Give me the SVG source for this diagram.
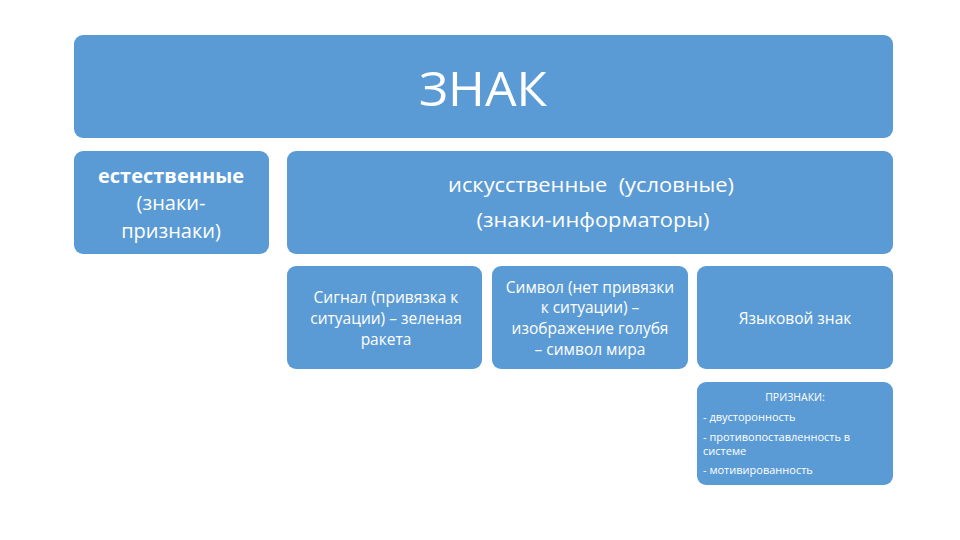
<svg xmlns="http://www.w3.org/2000/svg" width="960" height="540" viewBox="0 0 960 540">
<style>
.b{fill:#5b9bd5;}
text{fill:#fff;font-family:"Open Sans","Liberation Sans",sans-serif;text-anchor:middle;}
.m{font-size:15.5px;}
.s{font-size:11px;text-anchor:start;}
</style>
<rect width="960" height="540" fill="#fff"/>
<g id="znak"><rect class="b" x="74" y="35" width="819" height="103" rx="9"/><text x="483" y="106" font-size="48" textLength="128" lengthAdjust="spacingAndGlyphs">ЗНАК</text></g>
<g id="natural"><rect class="b" x="74" y="151" width="195" height="103" rx="9"/>
<text x="171" y="183" font-size="19" font-weight="bold" textLength="146" lengthAdjust="spacingAndGlyphs">естественные</text>
<text x="171" y="210" font-size="20">(знаки-</text>
<text x="171" y="238" font-size="20">признаки)</text></g>
<g id="artificial"><rect class="b" x="287" y="151" width="606" height="103" rx="9"/>
<text x="591" y="192" font-size="20" xml:space="preserve" textLength="286" lengthAdjust="spacingAndGlyphs">искусственные  (условные)</text>
<text x="593" y="227" font-size="20" textLength="233" lengthAdjust="spacingAndGlyphs">(знаки-информаторы)</text></g>
<g id="signal"><rect class="b" x="287" y="266" width="195" height="103" rx="9"/>
<text class="m" x="386" y="303">Сигнал (привязка к</text>
<text class="m" x="386" y="324">ситуации) – зеленая</text>
<text class="m" x="386" y="345">ракета</text></g>
<g id="symbol"><rect class="b" x="492" y="266" width="196" height="103" rx="9"/>
<text class="m" x="590" y="293">Символ (нет привязки</text>
<text class="m" x="590" y="313">к ситуации) –</text>
<text class="m" x="590" y="334">изображение голубя</text>
<text class="m" x="590" y="355">– символ мира</text></g>
<g id="lang"><rect class="b" x="697" y="266" width="196" height="103" rx="9"/>
<text class="m" x="795" y="324">Языковой знак</text></g>
<g id="features"><rect class="b" x="697" y="382" width="196" height="103" rx="9"/>
<text x="795" y="401" font-size="10.5">ПРИЗНАКИ:</text>
<text class="s" x="703" y="421">- двусторонность</text>
<text class="s" x="703" y="441">- противопоставленность в</text>
<text class="s" x="703" y="455">системе</text>
<text class="s" x="703" y="474">- мотивированность</text></g>
<g id="connectors"></g>
</svg>
